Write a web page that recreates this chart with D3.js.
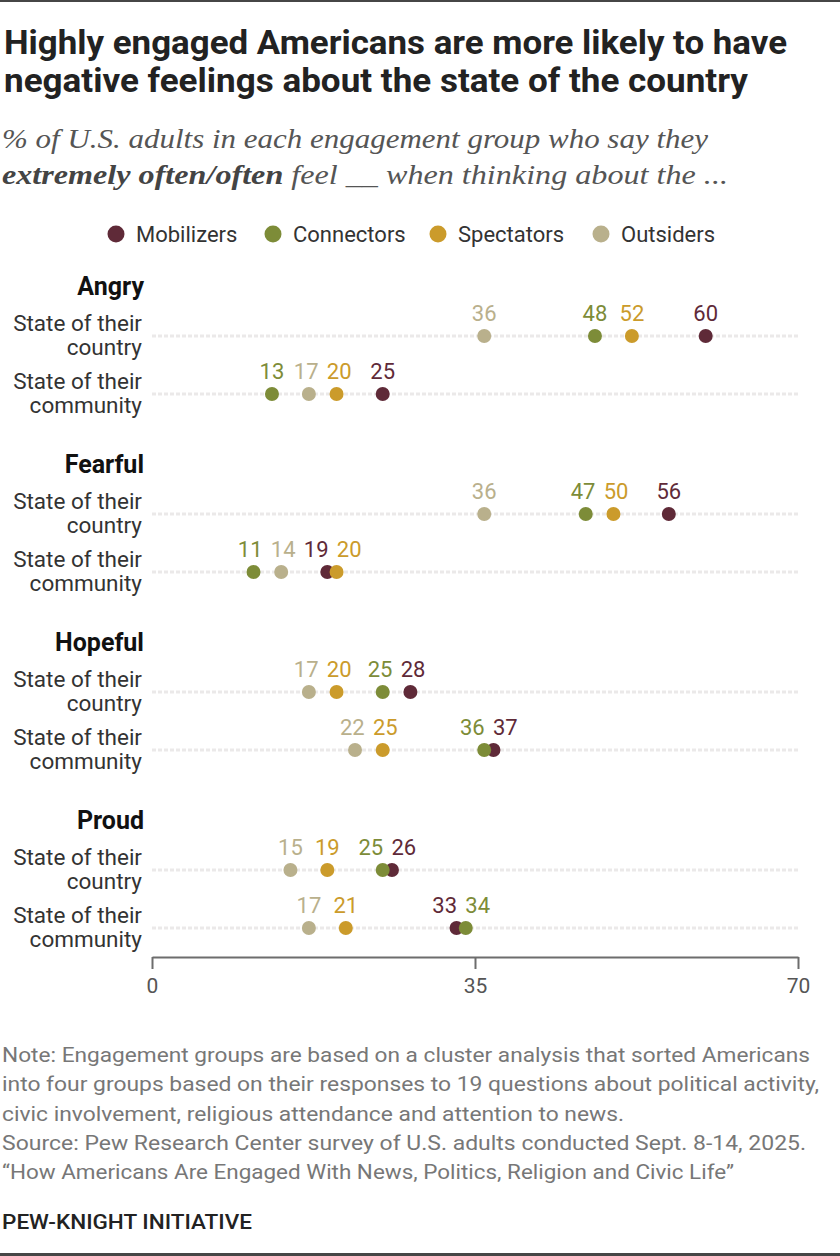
<!DOCTYPE html>
<html>
<head>
<meta charset="utf-8">
<script src="https://cdn.jsdelivr.net/npm/d3@7"></script>
<style>
  body { margin: 0; background: #fff; }
  svg { display: block; }
</style>
</head>
<body>
<script>
// Data
var groups = ['Mobilizers', 'Connectors', 'Spectators', 'Outsiders'];
var feelings = ['Angry', 'Fearful', 'Hopeful', 'Proud'];
var subjects = ['country', 'community'];
// one value per row: Angry/country, Angry/community, Fearful/country, ...
var mobilizers = [60, 25, 56, 19, 28, 37, 26, 33];
var connectors = [48, 13, 47, 11, 25, 36, 25, 34];
var spectators = [52, 20, 50, 20, 20, 25, 19, 21];
var outsiders  = [36, 17, 36, 14, 17, 22, 15, 17];
var axisTicks = [0, 35, 70];

var series = [mobilizers, connectors, spectators, outsiders];
var colors = ['#5f2a38', '#7d8c38', '#cb9b2b', '#b9b08c'];

var width = 840, height = 1256;
var sans = 'Roboto, "Liberation Sans", sans-serif';
var serif = '"Liberation Serif", "DejaVu Serif", serif';

var svg = d3.select('body')
        .append('svg')
        .attr('width', width)
        .attr('height', height);

// top and bottom rules
svg.append('rect').attr('x', 0).attr('y', 0).attr('width', width).attr('height', 2).attr('fill', '#464646');
svg.append('rect').attr('x', 0).attr('y', height - 3).attr('width', width).attr('height', 3).attr('fill', '#464646');

// Title
var titleLines = [
    ['Highly engaged Americans are more likely to have', 783],
    ['negative feelings about the state of the country', 744]
];
titleLines.forEach(function(t, i) {
    svg.append('text')
        .attr('x', 4)
        .attr('y', 54 + i * 38)
        .attr('textLength', t[1])
        .attr('lengthAdjust', 'spacingAndGlyphs')
        .style('font-family', sans)
        .style('font-weight', 'bold')
        .style('font-size', '33px')
        .attr('fill', '#222')
        .text(t[0]);
});

// Subtitle
svg.append('text')
    .attr('x', 2).attr('y', 148)
    .attr('textLength', 706)
    .attr('lengthAdjust', 'spacingAndGlyphs')
    .style('font-family', serif)
    .style('font-style', 'italic')
    .style('font-size', '27px')
    .attr('fill', '#555')
    .text('% of U.S. adults in each engagement group who say they');

var sub2 = svg.append('text')
    .attr('x', 2).attr('y', 184)
    .attr('textLength', 726)
    .attr('lengthAdjust', 'spacingAndGlyphs')
    .style('font-family', serif)
    .style('font-style', 'italic')
    .style('font-size', '27px')
    .attr('fill', '#555');
sub2.append('tspan').style('font-weight', 'bold').attr('fill', '#444').text('extremely often/often');
sub2.append('tspan').text(' feel __ when thinking about the ...');

// Legend
var legendX = [116, 273, 438, 601];
groups.forEach(function(g, i) {
    svg.append('circle')
        .attr('cx', legendX[i]).attr('cy', 234).attr('r', 8.5)
        .attr('fill', colors[i]);
    svg.append('text')
        .attr('x', legendX[i] + 20).attr('y', 242)
        .style('font-family', sans)
        .style('font-size', '22px')
        .attr('fill', '#333')
        .text(g);
});

// Scales
var x = d3.scaleLinear().domain([0, 70]).range([152, 798]);
var yGroup = d3.scalePoint().domain(feelings).range([336, 870]);
var ySub = d3.scalePoint().domain(subjects).range([0, 58]);

function rowY(r) {
    return yGroup(feelings[Math.floor(r / 2)]) + ySub(subjects[r % 2]);
}

// Headers and row labels
feelings.forEach(function(f) {
    svg.append('text')
        .attr('x', 144).attr('y', yGroup(f) - 41)
        .attr('text-anchor', 'end')
        .style('font-family', sans)
        .style('font-weight', 'bold')
        .style('font-size', '25px')
        .attr('fill', '#111')
        .text(f);
});

for (var r = 0; r < mobilizers.length; r++) {
    var y = rowY(r);
    var lbl = svg.append('text')
        .attr('text-anchor', 'end')
        .style('font-family', sans)
        .style('font-size', '22.5px')
        .attr('fill', '#333');
    lbl.append('tspan').attr('x', 142).attr('y', y - 5).text('State of their');
    lbl.append('tspan').attr('x', 142).attr('y', y + 19).text(subjects[r % 2]);

    svg.append('line')
        .attr('x1', x(0)).attr('x2', x(70))
        .attr('y1', y).attr('y2', y)
        .attr('stroke', '#ebe9e9')
        .attr('stroke-width', 3)
        .attr('stroke-dasharray', '4 2');
}

// Dots and value labels
var minGap = 33;
for (var r = 0; r < mobilizers.length; r++) {
    var y = rowY(r);
    var labels = [];
    for (var s = 0; s < series.length; s++) {
        var v = series[s][r];
        svg.append('circle')
            .attr('cx', x(v)).attr('cy', y).attr('r', 7)
            .attr('fill', colors[s]);
        labels.push({ v: v, s: s, lx: x(v) });
    }
    // push overlapping labels apart
    labels.sort(function(a, b) { return a.lx - b.lx; });
    for (var it = 0; it < 30; it++) {
        for (var k = 0; k < labels.length - 1; k++) {
            var d = labels[k + 1].lx - labels[k].lx;
            if (d < minGap) {
                var push = (minGap - d) / 2;
                labels[k].lx -= push;
                labels[k + 1].lx += push;
            }
        }
    }
    labels.forEach(function(l) {
        svg.append('text')
            .attr('x', l.lx).attr('y', y - 15)
            .attr('text-anchor', 'middle')
            .style('font-family', sans)
            .style('font-size', '22px')
            .attr('fill', colors[l.s])
            .text(l.v);
    });
}

// Axis
var axis = svg.append('g')
    .attr('transform', 'translate(0,957)')
    .call(d3.axisBottom(x).tickValues(axisTicks).tickSize(12).tickSizeOuter(0).tickPadding(9));
axis.select('.domain').attr('stroke', '#6d6d6d').attr('stroke-width', 2);
axis.selectAll('.tick line').attr('stroke', '#6d6d6d').attr('stroke-width', 2);
axis.selectAll('.tick text')
    .style('font-family', sans)
    .style('font-size', '21px')
    .attr('fill', '#555');

// Notes
var notes = [
    ['Note: Engagement groups are based on a cluster analysis that sorted Americans', 808],
    ['into four groups based on their responses to 19 questions about political activity,', 817],
    ['civic involvement, religious attendance and attention to news.', 622],
    ['Source: Pew Research Center survey of U.S. adults conducted Sept. 8-14, 2025.', 804],
    ['\u201cHow Americans Are Engaged With News, Politics, Religion and Civic Life\u201d', 732]
];
notes.forEach(function(n, i) {
    svg.append('text')
        .attr('x', 2).attr('y', 1062 + i * 29.3)
        .attr('textLength', n[1])
        .attr('lengthAdjust', 'spacingAndGlyphs')
        .style('font-family', sans)
        .style('font-size', '19.5px')
        .attr('fill', '#777')
        .text(n[0]);
});

svg.append('text')
    .attr('x', 2).attr('y', 1229)
    .attr('textLength', 250)
    .attr('lengthAdjust', 'spacingAndGlyphs')
    .style('font-family', sans)
    .style('font-weight', 500)
    .style('font-size', '19.5px')
    .attr('fill', '#222')
    .text('PEW-KNIGHT INITIATIVE');
</script>
</body>
</html>
